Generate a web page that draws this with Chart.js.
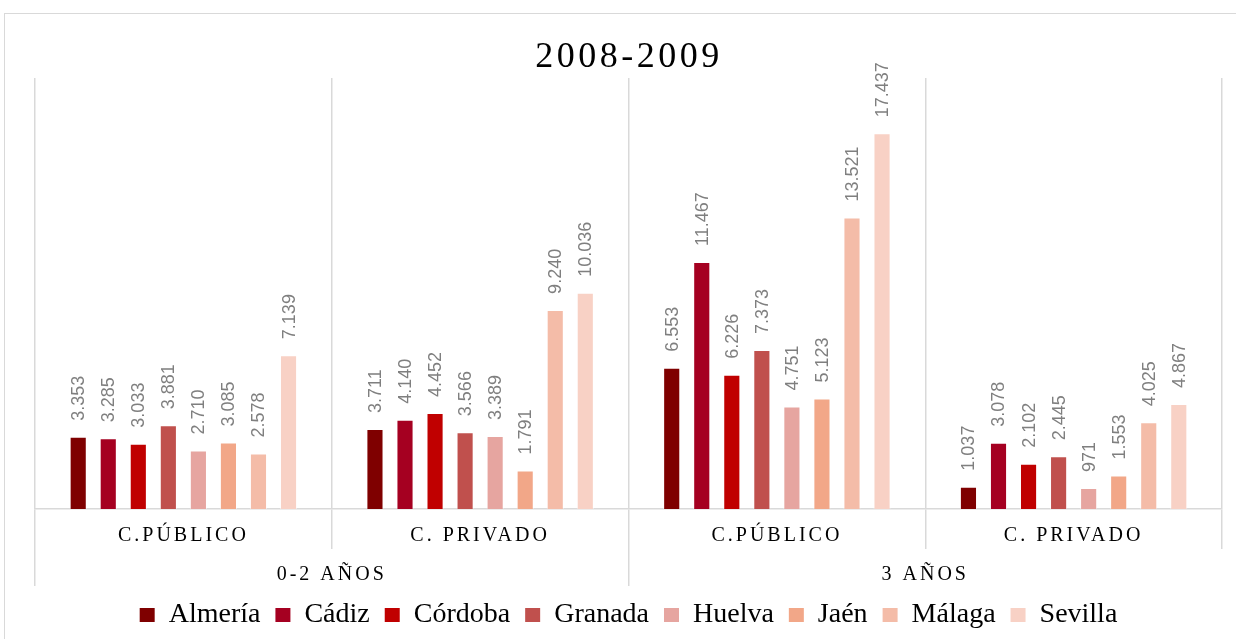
<!DOCTYPE html>
<html>
<head>
<meta charset="utf-8">
<script src="https://cdn.jsdelivr.net/npm/chart.js@4.4.1/dist/chart.umd.min.js"></script>
<style>
  body { margin: 0; background: #fff; }
  #frame { position: absolute; left: 4px; top: 13px; width: 1240px; height: 640px; border: 1px solid #d9d9d9; }
  #wrap { position: absolute; left: 0; top: 0; width: 1231px; height: 625px; }
</style>
</head>
<body>
<div id="frame"><div id="wrap"><canvas id="chart"></canvas></div></div>
<script>
// Data
const titleText = '2008-2009';
const categories = ['C.PÚBLICO', 'C. PRIVADO', 'C.PÚBLICO', 'C. PRIVADO'];
const groups = ['0-2 AÑOS', '3 AÑOS'];
const provinces = ['Almería', 'Cádiz', 'Córdoba', 'Granada', 'Huelva', 'Jaén', 'Málaga', 'Sevilla'];
const almeria = [3353, 3711, 6553, 1037];
const cadiz = [3285, 4140, 11467, 3078];
const cordoba = [3033, 4452, 6226, 2102];
const granada = [3881, 3566, 7373, 2445];
const huelva = [2710, 3389, 4751, 971];
const jaen = [3085, 1791, 5123, 1553];
const malaga = [2578, 9240, 13521, 4025];
const sevilla = [7139, 10036, 17437, 4867];

const seriesValues = [almeria, cadiz, cordoba, granada, huelva, jaen, malaga, sevilla];
const colors = ['#7f0000', '#a50021', '#c00000', '#c0504d', '#e6a5a0', '#f2a788', '#f4bca8', '#f8d1c5'];
const gridColor = '#d9d9d9';

function fmt(v) {
    return String(v).replace(/\B(?=(\d{3})+(?!\d))/g, '.');
}

// Value labels, letter spacing for the axis text and the title
const extras = {
    id: 'extras',
    beforeDraw(chart) {
        chart.ctx.letterSpacing = '0px';
    },
    afterDatasetsDraw(chart) {
        const ctx = chart.ctx;
        ctx.save();
        ctx.font = '18px "Liberation Sans"';
        ctx.fillStyle = '#7f7f7f';
        ctx.textAlign = 'left';
        ctx.textBaseline = 'middle';
        chart.data.datasets.forEach((ds, i) => {
            chart.getDatasetMeta(i).data.forEach((bar, j) => {
                ctx.save();
                ctx.translate(bar.x + 1, bar.y - 16);
                ctx.rotate(-Math.PI / 2);
                ctx.fillText(fmt(ds.data[j]), 0, 0);
                ctx.restore();
            });
        });
        ctx.restore();
        ctx.letterSpacing = '3px';
    },
    afterDraw(chart) {
        const ctx = chart.ctx;
        ctx.save();
        ctx.letterSpacing = '3.5px';
        ctx.font = '36px "Liberation Serif"';
        ctx.fillStyle = '#000';
        ctx.textAlign = 'center';
        ctx.textBaseline = 'alphabetic';
        ctx.fillText(titleText, 624, 53);
        ctx.restore();
        ctx.letterSpacing = '0px';
    }
};

const ctx = document.getElementById('chart').getContext('2d');
const chart = new Chart(ctx, {
    type: 'bar',
    data: {
        labels: categories,
        datasets: provinces.map((p, i) => ({
            label: p,
            data: seriesValues[i],
            backgroundColor: colors[i],
            borderColor: 'rgba(255,255,255,0.5)',
            borderWidth: 1,
            categoryPercentage: 0.81,
            barPercentage: 0.57
        }))
    },
    options: {
        responsive: true,
        maintainAspectRatio: false,
        animation: false,
        layout: { padding: { top: 64, left: 30, right: 14, bottom: 0 } },
        plugins: {
            title: { display: false },
            tooltip: { enabled: false },
            legend: {
                position: 'bottom',
                labels: {
                    color: '#000',
                    font: { family: '"Liberation Serif"', size: 28 },
                    boxWidth: 15,
                    boxHeight: 14,
                    padding: 15,
                    generateLabels(chart) {
                        const items = Chart.defaults.plugins.legend.labels.generateLabels(chart);
                        items.forEach(it => { it.lineWidth = 0; it.strokeStyle = 'rgba(0,0,0,0)'; });
                        return items;
                    }
                }
            }
        },
        scales: {
            y: { display: false, min: 0, max: 20000 },
            x: {
                grid: {
                    offset: true,
                    color: gridColor,
                    lineWidth: 1.5,
                    tickLength: 40,
                    drawTicks: true
                },
                border: { display: true, color: gridColor, width: 1.5 },
                ticks: {
                    z: 1,
                    color: '#000',
                    font: { family: '"Liberation Serif"', size: 20 },
                    padding: -25,
                    maxRotation: 0,
                    autoSkip: false
                },
                afterFit(scale) { scale.height = 40; }
            },
            x2: {
                type: 'category',
                labels: groups,
                position: 'bottom',
                grid: {
                    offset: true,
                    drawOnChartArea: false,
                    color: c => (c.type === 'tick' ? gridColor : 'rgba(0,0,0,0)'),
                    lineWidth: 1.5,
                    tickLength: 37
                },
                border: { display: false },
                ticks: {
                    z: 1,
                    color: '#000',
                    font: { family: '"Liberation Serif"', size: 20 },
                    padding: -23,
                    maxRotation: 0,
                    autoSkip: false
                },
                afterFit(scale) { scale.height = 37; }
            }
        }
    },
    plugins: [extras]
});
</script>
</body>
</html>
